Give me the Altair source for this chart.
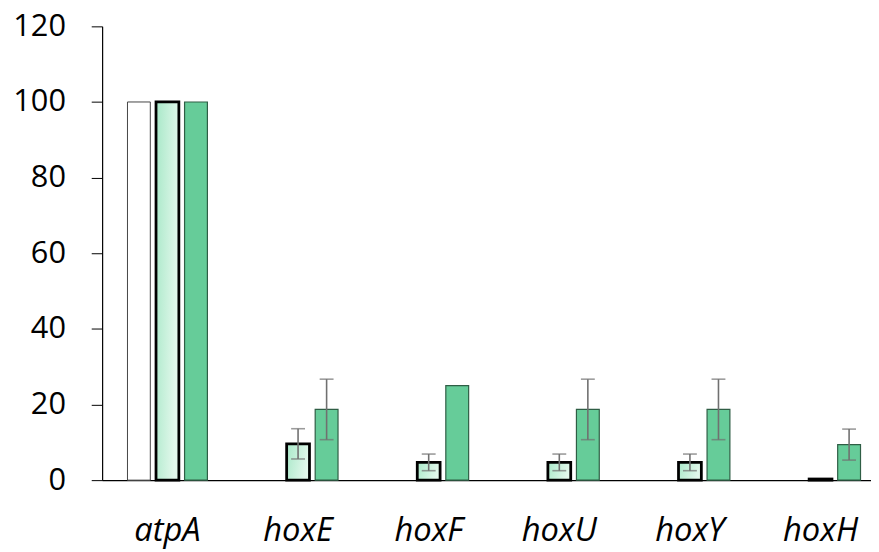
import altair as alt
import pandas as pd

genes = ["atpA", "hoxE", "hoxF", "hoxU", "hoxY", "hoxH"]
white_vals = [100, 0, 0, 0, 0, 0]
light_vals = [100, 9.6, 4.7, 4.7, 4.7, 0.3]
light_err = [0, 4.0, 2.2, 2.2, 2.2, 0]
green_vals = [100, 18.7, 25, 18.7, 18.7, 9.4]
green_err = [0, 8.0, 0, 8.0, 8.0, 4.1]
series = ["s1", "s2", "s3"]

rows = []
for i, g in enumerate(genes):
    rows.append({"gene": g, "series": "s1", "value": white_vals[i], "err": 0})
    rows.append({"gene": g, "series": "s2", "value": light_vals[i], "err": light_err[i]})
    rows.append({"gene": g, "series": "s3", "value": green_vals[i], "err": green_err[i]})
df = pd.DataFrame(rows)
df["lo"] = df["value"] - df["err"]
df["hi"] = df["value"] + df["err"]

FONT = "Open Sans"
W = 791
H = 458

x = alt.X("gene:N", sort=genes, title=None,
          scale=alt.Scale(paddingInner=0, paddingOuter=0),
          axis=alt.Axis(labelAngle=0, ticks=False, labelFontSize=33, labelFont=FONT,
                        labelFontStyle="italic", labelColor="#000", labelPadding=35,
                        domainColor="#000", domainWidth=1.2))
xo = alt.XOffset("series:N", sort=series,
                 scale=alt.Scale(paddingInner=0.2, paddingOuter=0.888))
y = alt.Y("value:Q", title=None,
          scale=alt.Scale(domain=[0, 120], nice=False),
          axis=alt.Axis(values=[0, 20, 40, 60, 80, 100, 120], grid=False,
                        tickSize=11, tickColor="#000", domainColor="#000", domainWidth=1.2,
                        labelFontSize=31, labelFont=FONT, labelColor="#000", labelPadding=26))

base = alt.Chart(df)

white = base.transform_filter("datum.series == 's1' && datum.value > 0").mark_bar(
    fill="white", stroke="#444", strokeWidth=1).encode(x=x, xOffset=xo, y=y)

light = base.transform_filter("datum.series == 's2'").mark_bar(
    color=alt.Gradient(gradient="linear", x1=0, y1=0, x2=1, y2=0.3,
                       stops=[alt.GradientStop(color="#a8e8c8", offset=0),
                              alt.GradientStop(color="#e3f8ec", offset=1)]),
    stroke="#000", strokeWidth=2.8).encode(x=x, xOffset=xo, y=y)

green = base.transform_filter("datum.series == 's3'").mark_bar(
    fill="#66cc99", stroke="#2f5e45", strokeWidth=1.2).encode(x=x, xOffset=xo, y=y)

errd = base.transform_filter("datum.err > 0")
rule = errd.mark_rule(color="#707070", strokeWidth=1.6).encode(
    x=x, xOffset=xo, y=alt.Y("lo:Q"), y2="hi:Q")
cap_hi = errd.mark_tick(color="#707070", thickness=1.6, size=14, orient="horizontal").encode(
    x=x, xOffset=xo, y=alt.Y("hi:Q"))
cap_lo = errd.mark_tick(color="#707070", thickness=1.6, size=14, orient="horizontal").encode(
    x=x, xOffset=xo, y=alt.Y("lo:Q"))

chart = alt.layer(white, light, green, rule, cap_hi, cap_lo).properties(
    width=W, height=H,
    autosize=alt.AutoSizeParams(type="none"),
    padding={"left": 95, "top": 16, "right": -15, "bottom": 70},
    background="white",
).configure_view(stroke=None)

chart.save("out.html", embed_options={"renderer": "svg", "actions": False})
